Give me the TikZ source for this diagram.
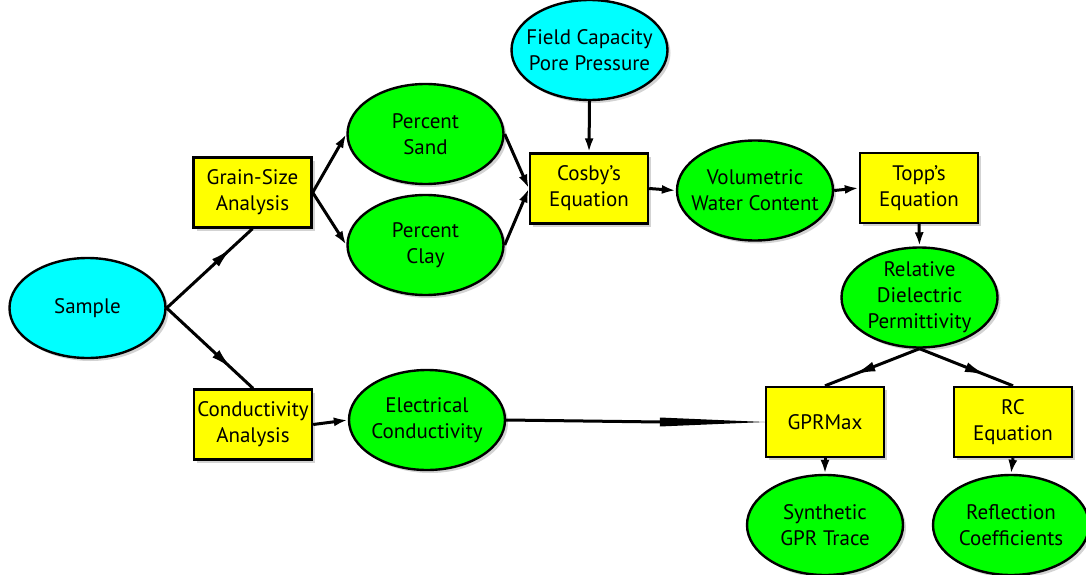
\documentclass[tikz,border=0pt]{standalone}
\usepackage{fontspec}
\setmainfont{PT Sans}
\usetikzlibrary{shapes.geometric,arrows.meta,decorations.markings,shadows,calc}
\definecolor{boxyellow}{RGB}{255,255,0}
\definecolor{ovalgreen}{RGB}{0,255,0}
\definecolor{ovalcyan}{RGB}{0,255,255}
\begin{document}
\begin{tikzpicture}[x=1pt,y=-1pt,
  base/.style={draw=black, line width=2.4pt, align=center, font=\fontsize{21}{26}\selectfont,
    drop shadow={opacity=0.35, shadow xshift=3pt, shadow yshift=-3pt}},
  box/.style={base, rectangle, fill=boxyellow, inner sep=0pt, minimum width=118pt, minimum height=70pt},
  oval/.style={base, ellipse, inner sep=-22pt, minimum width=156pt, minimum height=100pt},
  grn/.style={oval, fill=ovalgreen},
  cyn/.style={oval, fill=ovalcyan},
  conn/.style={line width=3pt, -{Latex[length=14pt,width=9pt]}},
  midarr/.style={line width=3pt, postaction={decorate},
    decoration={markings, mark=at position #1 with {\arrow{Latex[length=22pt,width=10pt]}}}},
]
\useasboundingbox (0,0) rectangle (1086,575);

\node[cyn] (sample) at (87.5,308) {Sample};
\node[box] (gs) at (252.5,192.5) {Grain-Size\\Analysis};
\node[box] (ca) at (253,424.5) {Conductivity\\Analysis};
\node[grn] (ps) at (425.5,134) {Percent\\Sand};
\node[grn] (pc) at (425.5,245) {Percent\\Clay};
\node[cyn] (fc) at (589.5,50) {Field Capacity\\Pore Pressure};
\node[box] (cosby) at (589,188.5) {Cosby’s\\Equation};
\node[grn] (vwc) at (755,190.5) {Volumetric\\Water Content};
\node[box] (topp) at (919,188) {Topp’s\\Equation};
\node[grn] (rdp) at (919.5,297.5) {Relative\\Dielectric\\Permittivity};
\node[grn] (ec) at (427,420) {Electrical\\Conductivity};
\node[box] (gpr) at (825,422) {GPRMax};
\node[box] (rc) at (1013,422) {RC\\Equation};
\node[grn] (syn) at (825,525) {Synthetic\\GPR Trace};
\node[grn] (refl) at (1011,525) {Reflection\\Coefficients};

\draw[midarr=0.76] (sample.east) -- (gs.south);
\draw[midarr=0.76] (sample.east) -- (ca.north);
\draw[conn] (gs.east) -- (ps.west);
\draw[conn] (gs.east) -- (pc.west);
\draw[conn] (ps.east) -- (cosby.west);
\draw[conn] (pc.east) -- (cosby.west);
\draw[conn] (fc.south) -- (cosby.north);
\draw[conn] (cosby.east) -- (vwc.west);
\draw[conn] (vwc.east) -- (topp.west);
\draw[conn] (topp.south) -- (rdp.north);
\draw[midarr=0.7] (rdp.south) -- (gpr.north);
\draw[midarr=0.72] (rdp.south) -- (rc.north);
\draw[conn] (ca.east) -- (ec.west);
\draw[line width=3pt] (ec.east) -- ($(gpr.west)+(-104,0)$);
\fill ($(gpr.west)+(-105,-4.5)$) -- (gpr.west) -- ($(gpr.west)+(-105,4.5)$) -- cycle;
\draw[conn] (gpr.south) -- (syn.north);
\draw[conn] (rc.south) -- (refl.north);
\end{tikzpicture}
\end{document}
